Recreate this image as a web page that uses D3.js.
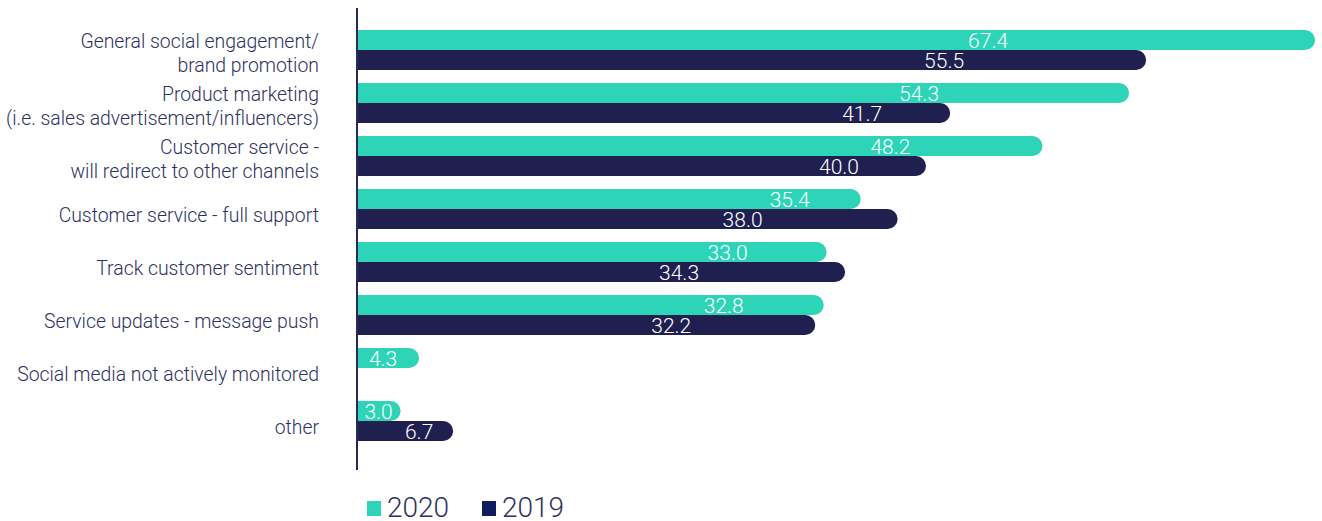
<!DOCTYPE html>
<html>
<head>
<meta charset="utf-8">
<script src="https://cdn.jsdelivr.net/npm/d3@7"></script>
<style>
  body { margin: 0; background: #fff; }
  svg { display: block; font-family: Roboto, "Noto Sans", sans-serif; }
</style>
</head>
<body>
<div id="chart"></div>
<script>
// data
const categories = [
    ["General social engagement/", "brand promotion"],
    ["Product marketing", "(i.e. sales advertisement/influencers)"],
    ["Customer service -", "will redirect to other channels"],
    ["Customer service - full support"],
    ["Track customer sentiment"],
    ["Service updates - message push"],
    ["Social media not actively monitored"],
    ["other"]
];
const series = ["2020", "2019"];
const values2020 = [67.4, 54.3, 48.2, 35.4, 33.0, 32.8, 4.3, 3.0];
const values2019 = [55.5, 41.7, 40.0, 38.0, 34.3, 32.2, null, 6.7];

// label placement (px left of bar end), as laid out in the original
const labelInset2020 = [327, 210, 152, 71, 99, 100, 36, 22];
const labelInset2019 = [202, 88, 87, 155, 166, 144, 0, 34];

const colors = { "2020": "#2dd4b7", "2019": "#1f1f50" };
const legendColors = { "2020": "#2dd4b7", "2019": "#0c1d60" };
const textColor = "#2e3160";

const width = 1322, height = 521;

const svg = d3.select("#chart").append("svg")
    .attr("width", width)
    .attr("height", height);

const keys = categories.map((c, i) => i);

const xScale = d3.scaleLinear().domain([0, 70]).range([358, 358 + 70 * 14.2]);
const yScale = d3.scaleBand().domain(keys).range([30, 441]).paddingInner(0.245).paddingOuter(0);
const subScale = d3.scaleBand().domain(series).range([0, yScale.bandwidth()]);

const rows = [];
keys.forEach(i => {
    rows.push({ i, s: "2020", v: values2020[i], inset: labelInset2020[i] });
    if (values2019[i] != null) rows.push({ i, s: "2019", v: values2019[i], inset: labelInset2019[i] });
});

// bar with square left end and round right end
function barPath(d) {
    const x0 = xScale(0), x1 = xScale(d.v);
    const y0 = yScale(d.i) + subScale(d.s);
    const h = subScale.bandwidth();
    const r = Math.min(h / 2, (x1 - x0) / 2);
    return `M${x0},${y0} H${x1 - r} A${r},${r} 0 0 1 ${x1},${y0 + r} V${y0 + h - r} A${r},${r} 0 0 1 ${x1 - r},${y0 + h} H${x0} Z`;
}

svg.append("g").selectAll("path")
    .data(rows)
    .join("path")
    .attr("d", barPath)
    .attr("fill", d => colors[d.s]);

svg.append("g").selectAll("text")
    .data(rows)
    .join("text")
    .attr("x", d => xScale(d.v) - d.inset)
    .attr("y", d => yScale(d.i) + subScale(d.s) + subScale.bandwidth() / 2)
    .attr("dy", "0.36em")
    .attr("text-anchor", "middle")
    .attr("fill", "#fff")
    .attr("font-size", 21)
    .attr("font-weight", 300)
    .text(d => d.v.toFixed(1));

// axis line
svg.append("line")
    .attr("x1", 357).attr("x2", 357)
    .attr("y1", 8).attr("y2", 470)
    .attr("stroke", "#2a2a58")
    .attr("stroke-width", 2);

// category labels
const lineH = 24;
const catG = svg.append("g")
    .attr("font-size", 19.4)
    .attr("font-weight", 300)
    .attr("fill", textColor)
    .attr("text-anchor", "end");

categories.forEach((lines, i) => {
    const cy = yScale(i) + yScale.bandwidth() / 2 + (lines.length > 1 ? 3 : 6);
    const t = catG.append("text")
        .attr("x", 319)
        .attr("y", cy - (lines.length - 1) * lineH / 2);
    lines.forEach((l, j) => {
        t.append("tspan").attr("x", 319).attr("dy", j === 0 ? "0.35em" : lineH).text(l);
    });
});

// legend
const legend = svg.append("g").attr("transform", "translate(367,507)");
const legendX = { "2020": 0, "2019": 115 };
series.forEach(s => {
    const g = legend.append("g").attr("transform", `translate(${legendX[s]},0)`);
    g.append("rect").attr("x", 0).attr("y", -6).attr("width", 14).attr("height", 15).attr("fill", legendColors[s]);
    g.append("text")
        .attr("x", 20).attr("y", 0).attr("dy", "0.35em")
        .attr("font-size", 28)
        .attr("font-weight", 300)
        .attr("fill", textColor)
        .text(s);
});
</script>
</body>
</html>
